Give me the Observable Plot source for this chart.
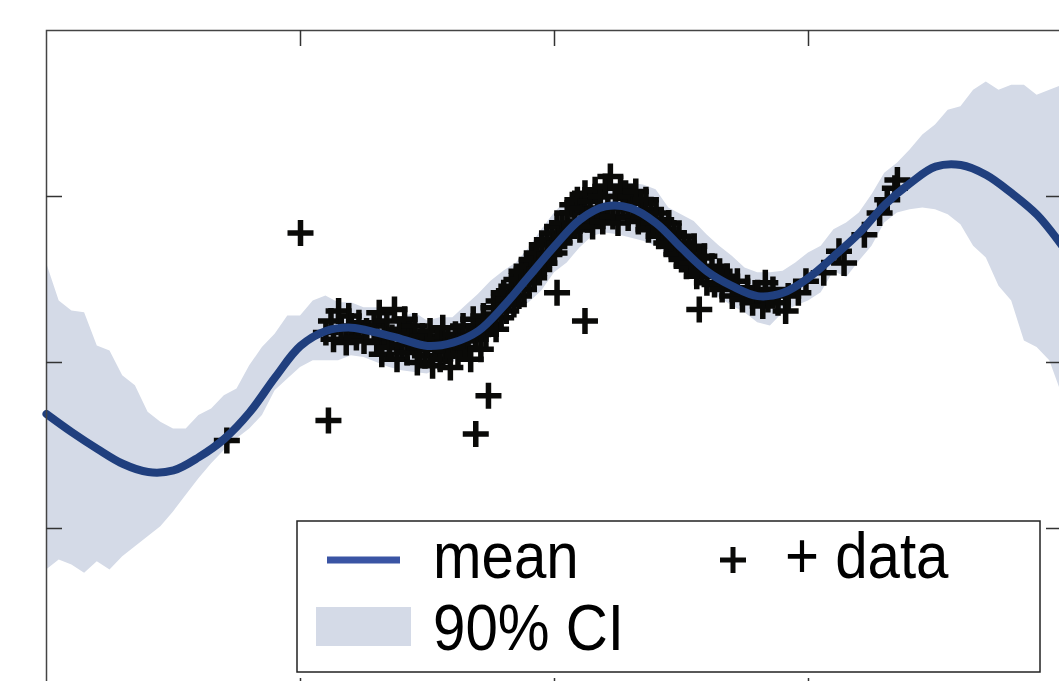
<!DOCTYPE html>
<html>
<head>
<meta charset="utf-8">
<script src="https://cdn.jsdelivr.net/npm/d3@7"></script>
<script src="https://cdn.jsdelivr.net/npm/@observablehq/plot@0.6"></script>
<style>
  html, body { margin: 0; padding: 0; background: #fff; overflow: hidden; }
  #wrap { position: relative; width: 1059px; height: 681px; overflow: hidden; }
  #chart { position: absolute; left: 0; top: 0; width: 1100px; height: 720px; }
  #chart > svg { max-width: none !important; width: 1100px !important; height: 720px !important; }
  #legend { position: absolute; left: 296px; top: 520px; }
  text { font-family: "Liberation Sans", Arial, sans-serif; }
</style>
</head>
<body>
<div id="wrap">
  <div id="chart"></div>
  <svg id="legend" width="746" height="154"></svg>
</div>
<script>
// ---- data ----
const meanX = [0,0.1,0.2,0.3,0.4,0.5,0.6,0.7,0.8,0.9,1.0,1.1,1.2,1.3,1.4,1.5,1.6,1.7,1.8,1.9,2.0,2.1,2.2,2.3,2.4,2.5,2.6,2.7,2.8,2.9,3.0,3.1,3.2,3.3,3.4,3.5,3.6,3.7,3.8,3.9,4.0];
const meanY = [-0.31,-0.42,-0.52,-0.61,-0.66,-0.65,-0.57,-0.46,-0.30,-0.09,0.10,0.19,0.21,0.18,0.14,0.10,0.12,0.19,0.34,0.52,0.70,0.86,0.94,0.93,0.84,0.69,0.55,0.46,0.40,0.42,0.51,0.64,0.78,0.95,1.08,1.18,1.19,1.13,1.02,0.89,0.70];

const bandX = [0,0.05,0.1,0.15,0.2,0.25,0.3,0.35,0.4,0.45,0.5,0.55,0.6,0.65,0.7,0.75,0.8,0.85,0.9,0.95,
  1.0,1.05,1.1,1.15,1.2,1.25,1.3,1.35,1.4,1.45,1.5,1.55,1.6,1.65,1.7,1.75,1.8,1.85,1.9,1.95,
  2.0,2.05,2.1,2.15,2.2,2.25,2.3,2.35,2.4,2.45,2.5,2.55,2.6,2.65,2.7,2.75,2.8,2.85,2.9,2.95,
  3.0,3.05,3.1,3.15,3.2,3.25,3.3,3.35,3.4,3.45,3.5,3.55,3.6,3.65,3.7,3.75,3.8,3.85,3.9,3.95,4.0];
const bandHigh = [0.60,0.37,0.31,0.30,0.10,0.07,-0.08,-0.14,-0.30,-0.36,
  -0.40,-0.40,-0.32,-0.28,-0.20,-0.16,-0.02,0.09,0.17,0.28,
  0.28,0.37,0.40,0.36,0.36,0.33,0.33,0.30,0.27,0.30,
  0.25,0.27,0.27,0.34,0.41,0.49,0.55,0.60,0.69,0.80,
  0.90,0.98,1.01,1.05,1.08,1.08,1.08,1.07,1.04,0.93,
  0.89,0.85,0.77,0.70,0.64,0.57,0.54,0.54,0.55,0.60,
  0.66,0.70,0.80,0.84,0.90,1.01,1.14,1.20,1.28,1.37,
  1.43,1.52,1.54,1.64,1.69,1.64,1.67,1.67,1.61,1.64,1.67];
const bandLow = [-1.25,-1.19,-1.22,-1.27,-1.20,-1.25,-1.17,-1.11,-1.05,-0.99,
  -0.90,-0.80,-0.70,-0.61,-0.53,-0.46,-0.40,-0.32,-0.17,-0.10,
  -0.03,0.01,0.01,0.01,0.04,0.03,0.00,-0.03,-0.05,-0.06,
  -0.07,-0.03,0.00,0.06,0.11,0.17,0.24,0.31,0.36,0.43,
  0.54,0.60,0.69,0.76,0.78,0.77,0.75,0.73,0.70,0.65,
  0.60,0.51,0.45,0.39,0.34,0.30,0.24,0.22,0.30,0.34,
  0.37,0.42,0.55,0.51,0.61,0.70,0.84,0.90,0.92,0.93,
  0.92,0.89,0.83,0.70,0.63,0.46,0.37,0.13,0.09,0.01,-0.20];

const obsX = [
  0.71,1.00,1.11,1.69,1.74,2.01,2.12,2.57,2.83,2.91,3.14,
  1.10,1.12,1.13,1.15,1.16,1.18,1.19,1.20,1.22,1.23,1.25,1.26,
  1.29,1.30,1.31,1.32,1.33,1.34,1.35,1.36,1.37,1.38,1.39,1.40,1.41,1.42,1.43,1.44,1.45,1.46,1.47,1.48,1.49,1.50,
  1.51,1.52,1.53,1.54,1.55,1.56,1.57,1.58,1.59,1.60,1.61,1.62,1.63,1.64,1.65,1.66,1.67,1.68,1.69,1.70,1.71,1.72,1.73,1.74,
  1.76,1.77,1.78,1.79,1.80,1.81,1.82,1.83,1.84,1.85,1.86,1.87,1.88,1.89,1.90,1.91,1.92,1.93,1.94,1.95,1.96,1.97,1.98,1.99,2.00,2.01,2.02,
  2.03,2.04,2.05,2.06,2.07,2.08,2.09,2.10,2.11,2.12,2.13,2.14,2.15,2.16,2.17,2.18,2.19,2.20,2.21,2.22,2.23,2.24,2.25,2.26,2.27,2.28,2.29,2.30,
  2.31,2.32,2.33,2.34,2.35,2.36,2.37,2.38,2.39,2.40,2.41,2.42,2.43,2.44,
  2.45,2.46,2.47,2.48,2.49,2.50,2.51,2.52,2.53,2.54,2.55,2.56,2.57,2.58,2.59,2.60,2.62,2.63,2.65,2.66,2.68,2.70,2.72,2.74,2.76,2.78,2.80,2.82,2.84,2.86,2.88,
  2.92,2.96,2.99,3.06,3.12,3.22,3.28,3.31,3.34,3.35];
const obsY = [
  -0.47,0.78,-0.35,-0.43,-0.20,0.42,0.25,0.32,0.48,0.31,0.60,
  0.18,0.25,0.14,0.31,0.20,0.12,0.28,0.22,0.15,0.24,0.13,0.19,
  0.22,0.12,0.30,0.05,0.18,0.25,0.09,0.15,0.32,0.02,0.20,0.11,0.26,0.06,0.17,0.13,0.22,0.00,0.09,0.16,0.04,0.12,
  0.19,-0.02,0.08,0.14,0.02,0.21,0.07,0.12,-0.03,0.10,0.17,0.04,0.13,0.22,0.09,0.16,0.02,0.26,0.14,0.20,0.08,0.28,0.17,0.23,
  0.33,0.20,0.37,0.27,0.42,0.31,0.38,0.46,0.35,0.50,0.40,0.55,0.44,0.58,0.48,0.62,0.51,0.66,0.56,0.71,0.60,0.74,0.65,0.78,0.66,0.82,0.72,
  0.84,0.76,0.90,0.79,0.95,0.83,0.98,0.80,0.93,1.02,0.86,0.97,0.82,1.04,0.90,1.00,0.85,1.06,0.93,1.12,0.88,1.00,0.84,1.05,0.95,1.02,0.87,1.00,
  0.92,1.03,0.85,0.96,0.88,0.98,0.80,0.92,0.84,0.90,0.76,0.86,0.80,0.72,
  0.84,0.70,0.78,0.65,0.76,0.62,0.72,0.58,0.68,0.60,0.70,0.52,0.63,0.55,0.64,0.48,0.58,0.47,0.55,0.44,0.52,0.40,0.49,0.38,0.45,0.36,0.42,0.34,0.38,0.44,0.36,
  0.40,0.42,0.49,0.54,0.67,0.77,0.90,0.98,1.05,1.10];

const xTicks = [1, 2, 3];
const yTicks = [-1, 0, 1];
const xDomain = [0, 4];
const yDomain = [-2, 2];

// ---- build tables for the library ----
const meanData = meanX.map((x, i) => ({x, y: meanY[i]}));
const bandData = bandX.map((x, i) => ({x, lo: bandLow[i], hi: bandHigh[i]}));
const obsData = obsX.map((x, i) => ({x, y: obsY[i]}));

const W = 1100, H = 720, mL = 46, mT = 30, mR = 38, mB = 26;
const innerW = W - mL - mR, innerH = H - mT - mB;
const tickLen = 16;

const plusSymbol = {
  draw(context, size) {
    const r = Math.sqrt(size / Math.PI);
    context.moveTo(-r, 0); context.lineTo(r, 0);
    context.moveTo(0, -r); context.lineTo(0, r);
  }
};

const chart = Plot.plot({
  width: W, height: H,
  marginLeft: mL, marginTop: mT, marginRight: mR, marginBottom: mB,
  x: {domain: xDomain, axis: null},
  y: {domain: yDomain, axis: null},
  style: {background: "transparent", overflow: "visible", maxWidth: "none"},
  marks: [
    Plot.areaY(bandData, {x: "x", y1: "lo", y2: "hi", fill: "#d4dae7", fillOpacity: 1}),
    Plot.dot(obsData, {x: "x", y: "y", symbol: plusSymbol, r: 13, stroke: "#0a0a08", strokeWidth: 5.5, fill: "none", strokeLinecap: "butt"}),
    Plot.line(meanData, {x: "x", y: "y", stroke: "#203f7e", strokeWidth: 8, curve: "catmull-rom"}),
    Plot.frame({stroke: "#444", strokeWidth: 1.5}),
    Plot.tickX(xTicks, {x: d => d, insetBottom: innerH - tickLen, stroke: "#333", strokeWidth: 1.5}),
    Plot.tickX(xTicks, {x: d => d, insetTop: innerH - tickLen, stroke: "#333", strokeWidth: 1.5}),
    Plot.tickY(yTicks, {y: d => d, insetRight: innerW - tickLen, stroke: "#333", strokeWidth: 1.5}),
    Plot.tickY(yTicks, {y: d => d, insetLeft: innerW - tickLen, stroke: "#333", strokeWidth: 1.5})
  ]
});
document.getElementById("chart").appendChild(chart);

// ---- legend ----
const lg = d3.select("#legend");
lg.append("rect").attr("x", 1).attr("y", 1).attr("width", 743).attr("height", 151)
  .attr("fill", "#fff").attr("stroke", "#222").attr("stroke-width", 1.5);
lg.append("line").attr("x1", 31).attr("x2", 104).attr("y1", 40).attr("y2", 40)
  .attr("stroke", "#3a54a4").attr("stroke-width", 7);
lg.append("rect").attr("x", 20).attr("y", 87).attr("width", 95).attr("height", 39).attr("fill", "#d4dae7");
const plusG = lg.append("g").attr("transform", "translate(437,40)");
plusG.append("line").attr("x1", -13).attr("x2", 13).attr("y1", 0).attr("y2", 0).attr("stroke", "#0a0a08").attr("stroke-width", 5);
plusG.append("line").attr("x1", 0).attr("x2", 0).attr("y1", -13).attr("y2", 13).attr("stroke", "#0a0a08").attr("stroke-width", 5);
const addText = (x, y, s) => lg.append("text").attr("transform", `translate(${x},${y}) scale(0.91,1)`)
  .attr("font-size", 64).attr("fill", "#000").text(s);
addText(137, 58, "mean");
addText(489, 58, "+ data");
addText(137, 130, "90% CI");
</script>
</body>
</html>
